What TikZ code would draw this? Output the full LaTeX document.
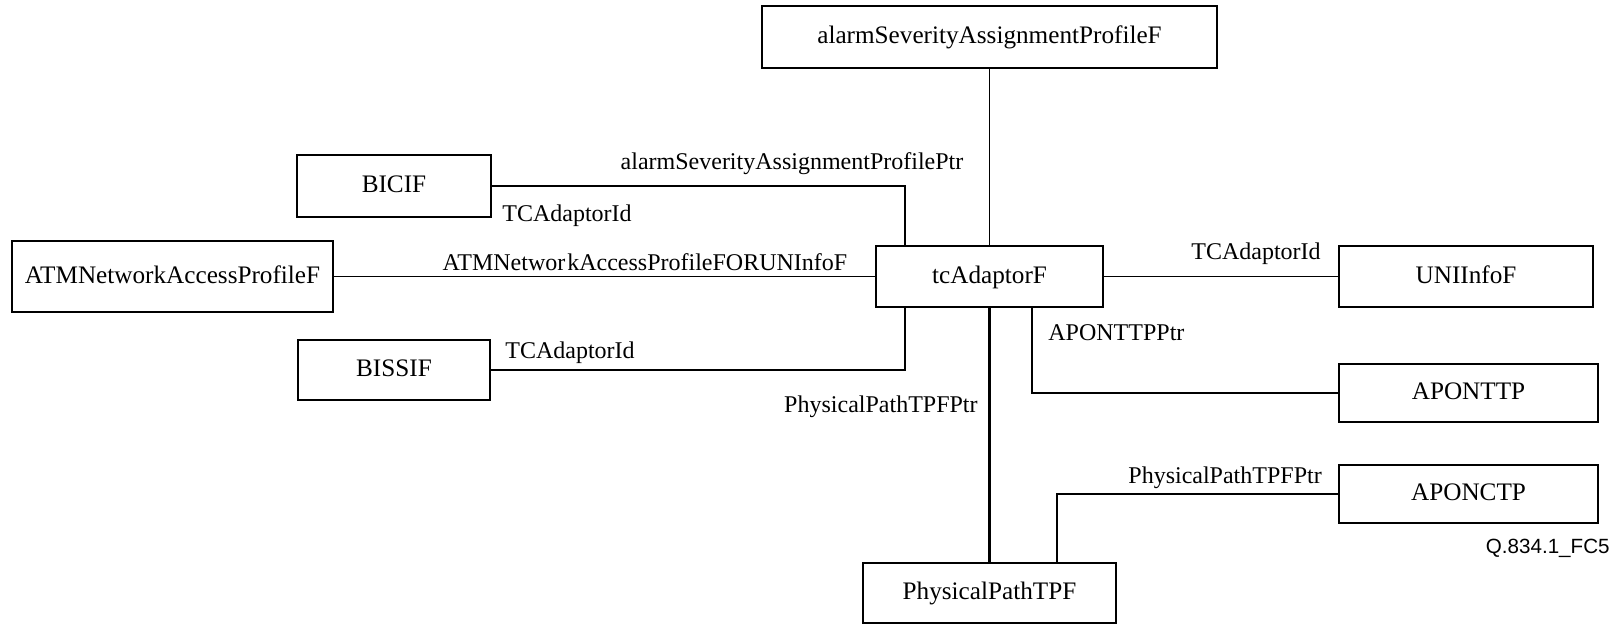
\documentclass[tikz,border=0pt]{standalone}
\usepackage{fontspec}
\setmainfont{Liberation Serif}
\newfontfamily\labelsans{Liberation Sans}
\begin{document}
\begin{tikzpicture}[x=0.5pt,y=-0.5pt,
  box/.style={draw, line width=0.75pt, rectangle, inner sep=0pt,
    text height=0.66em, text depth=0pt, font=\fontsize{12.6}{15}\selectfont},
  lbl/.style={inner sep=0pt, font=\fontsize{12}{14}\selectfont},
  link/.style={line width=0.75pt},
  mainlink/.style={line width=1.3pt}]
\useasboundingbox (0,0) rectangle (1617,624);

% managed-object boxes
\node[box, minimum width=227.5pt, minimum height=31pt] (asap) at (989.5,37) {alarmSeverityAssignmentProfileF};
\node[box, minimum width=97pt, minimum height=31pt] (bicif) at (394,186) {BICIF};
\node[box, minimum width=160.5pt, minimum height=35.5pt] (atm) at (172.5,276.5) {ATMNetworkAccessProfileF};
\node[box, minimum width=96pt, minimum height=30pt] (bissif) at (394,370) {BISSIF};
\node[box, minimum width=113.5pt, minimum height=30.5pt] (tca) at (989.5,276.5) {tcAdaptorF};
\node[box, minimum width=127pt, minimum height=30.5pt] (uni) at (1466,276.5) {UNIInfoF};
\node[box, minimum width=129.5pt, minimum height=29pt] (aponttp) at (1468.5,393) {APONTTP};
\node[box, minimum width=129.5pt, minimum height=29pt] (aponctp) at (1468.5,494) {APONCTP};
\node[box, minimum width=126.5pt, minimum height=30pt] (ppt) at (989.5,593) {PhysicalPathTPF};

% bend columns of the elbow connectors
\coordinate (bendL) at (905,0);
\coordinate (bendT) at (1032,0);
\coordinate (bendP) at (1057,0);

% connectors
\draw[link] (asap.south) -- (tca.north);
\draw[link] (bicif.east) -| (bendL |- tca.north);
\draw[link] (atm.east) -- (tca.west);
\draw[link] (bissif.east) -| (bendL |- tca.south);
\draw[link] (tca.east) -- (uni.west);
\draw[link] (bendT |- tca.south) |- (aponttp.west);
\draw[mainlink] (tca.south) -- (ppt.north);
\draw[link] (bendP |- ppt.north) |- (aponctp.west);

% attribute labels
\node[lbl, anchor=base] (l1) at (792,170) {alarmSeverityAssignmentProfilePtr};
\node[lbl, anchor=base west] (l2) at (502,222) {TCAdaptorId};
\node[lbl, anchor=base] (l3) at (645,271) {ATMNetwor\kern1pt kAccessProfileFORUNInfoF};
\node[lbl, anchor=base west] (l4) at (505,359) {TCAdaptorId};
\node[lbl, anchor=base west] (l5) at (1191,260) {TCAdaptorId};
\node[lbl, anchor=base west] (l6) at (1048,341) {APONTTPPtr};
\node[lbl, anchor=base east] (l7) at (978,413) {PhysicalPathTPFPtr};
\node[lbl, anchor=base west] (l8) at (1128,484) {PhysicalPathTPFPtr};

% figure tag
\node[inner sep=0pt, anchor=base east, font=\labelsans\fontsize{10.3}{12}\selectfont] (tag) at (1610,554) {Q.834.1\_FC5};
\end{tikzpicture}
\end{document}
